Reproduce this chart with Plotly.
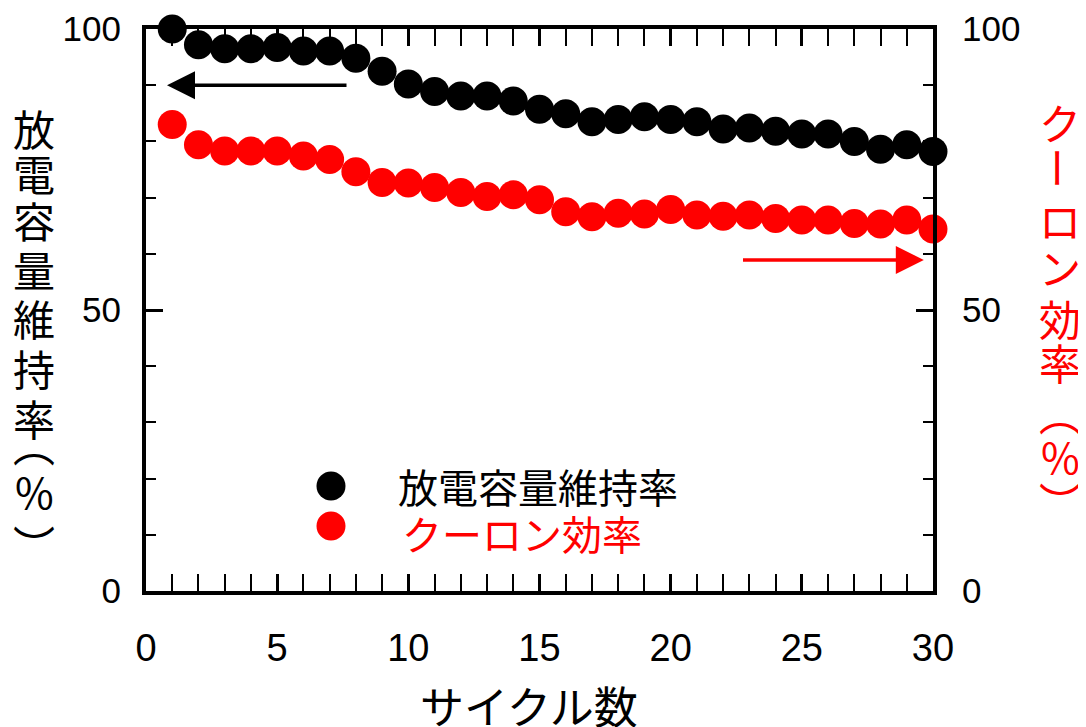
import plotly.graph_objects as go

cycles = list(range(1, 31))
capacity_retention = [100.0, 97.2, 96.5, 96.5, 96.7, 96.1, 96.1, 94.8, 92.5, 90.2,
                      88.9, 88.1, 88.1, 87.2, 85.7, 84.9, 83.5, 83.9, 84.4, 83.9,
                      83.5, 82.2, 82.4, 81.8, 81.3, 81.3, 80.0, 78.6, 79.4, 78.2]
coulomb_eff = [83.0, 79.4, 78.3, 78.3, 78.3, 77.4, 76.8, 74.6, 72.7, 72.6,
               71.8, 70.9, 70.2, 70.5, 69.6, 67.5, 66.6, 67.2, 67.1, 67.9,
               66.9, 66.7, 66.9, 66.3, 66.0, 66.0, 65.4, 65.3, 66.0, 64.4]

x_ticks = [0, 5, 10, 15, 20, 25, 30]
y_ticks = [0, 50, 100]
name_cap = "放電容量維持率"
name_ce = "クーロン効率"
left_title = "放電容量維持率（%）"
right_title = "クーロン効率（%）"
x_title = "サイクル数"

# page body has an 8px margin; compensate so the plot lands where the reference has it
OFF = 8
W, H = 1086 - OFF, 727 - OFF
L, R, T, B = 146 - OFF, 153, 29 - OFF, 136
PW, PH = W - L - R, H - T - B

def px_x(x):
    return (x - OFF - L) / PW

def px_y(y):
    return (H + OFF - B - y) / PH

CJK = "Noto Sans CJK JP"
NUM = "Liberation Sans, Arial, sans-serif"

fig = go.Figure()
fig.add_trace(go.Scatter(x=cycles, y=capacity_retention, mode="markers", name=name_cap,
                         marker=dict(color="#000000", size=29, line=dict(width=0)),
                         cliponaxis=False, showlegend=False))
fig.add_trace(go.Scatter(x=cycles, y=coulomb_eff, mode="markers", name=name_ce, yaxis="y2",
                         marker=dict(color="#ff0000", size=29, line=dict(width=0)),
                         cliponaxis=False, showlegend=False))

axis_common = dict(showline=True, linecolor="black", linewidth=4, showgrid=False,
                   zeroline=False, ticks="inside", tickcolor="black", tickwidth=3,
                   ticklen=17, automargin=False)

fig.update_layout(
    width=W, height=H,
    margin=dict(l=L, r=R, t=T, b=B, pad=0, autoexpand=False),
    paper_bgcolor="white", plot_bgcolor="white",
    xaxis=dict(range=[0, 30], tickvals=x_ticks, ticktext=[str(v) for v in x_ticks],
               mirror="allticks", ticklabelstandoff=20,
               tickfont=dict(family=NUM, size=38, color="black"),
               minor=dict(ticks="inside", dtick=1, ticklen=10, tickwidth=2, tickcolor="black"),
               **axis_common),
    yaxis=dict(range=[0, 100], tickvals=y_ticks, ticktext=[str(v) for v in y_ticks],
               ticklabelstandoff=14,
               tickfont=dict(family=NUM, size=35, color="black"),
               minor=dict(ticks="inside", dtick=10, ticklen=10, tickwidth=2, tickcolor="black"),
               **axis_common),
    yaxis2=dict(range=[0, 100], tickvals=y_ticks, ticktext=[str(v) for v in y_ticks],
                overlaying="y", side="right", ticklabelstandoff=18,
                tickfont=dict(family=NUM, size=35, color="black"),
                minor=dict(ticks="inside", dtick=10, ticklen=10, tickwidth=2, tickcolor="black"),
                **axis_common),
)

annotations = []

# vertical left title
left_chars = ["放", "電", "容", "量", "維", "持", "率", "︵", "%", "︶"]
left_y = [127, 173, 220, 268, 317, 367, 417, 443, 490, 543]
for ch, yy in zip(left_chars, left_y):
    annotations.append(dict(text=ch, xref="paper", yref="paper", x=px_x(34), y=px_y(yy),
                            xanchor="center", yanchor="middle", showarrow=False,
                            font=dict(family=CJK, size=42, color="black")))

right_chars = ["ク", "ー", "ロ", "ン", "効", "率", "︵", "%", "︶"]
right_y = [122, 168, 220, 266, 317, 362, 412, 455, 500]
for ch, yy in zip(right_chars, right_y):
    annotations.append(dict(text=ch, xref="paper", yref="paper", x=px_x(1060), y=px_y(yy),
                            xanchor="center", yanchor="middle", showarrow=False,
                            textangle=90 if ch == "ー" else 0,
                            font=dict(family=CJK, size=42, color="#ff0000")))

# x title
annotations.append(dict(text=x_title, xref="paper", yref="paper", x=px_x(529), y=px_y(705),
                        xanchor="center", yanchor="middle", showarrow=False,
                        font=dict(family=CJK, size=44, color="black")))

# legend texts
annotations.append(dict(text=name_cap, xref="paper", yref="paper", x=px_x(396), y=px_y(486),
                        xanchor="left", yanchor="middle", showarrow=False,
                        font=dict(family=CJK, size=40, color="black")))
annotations.append(dict(text=name_ce, xref="paper", yref="paper", x=px_x(400), y=px_y(533),
                        xanchor="left", yanchor="middle", showarrow=False,
                        font=dict(family=CJK, size=40, color="#ff0000")))

# arrows
annotations.append(dict(x=0.8, y=90, ax=7.7, ay=90, xref="x", yref="y", axref="x", ayref="y",
                        text="", showarrow=True, arrowhead=2, arrowsize=1.6, arrowwidth=3.5,
                        arrowcolor="black", standoff=0, startstandoff=0))
annotations.append(dict(x=29.65, y=58.9, ax=22.7, ay=58.9, xref="x", yref="y2", axref="x", ayref="y2",
                        text="", showarrow=True, arrowhead=2, arrowsize=1.6, arrowwidth=3.5,
                        arrowcolor="#ff0000", standoff=0, startstandoff=0))

fig.update_layout(annotations=annotations)

# legend markers
shapes = []
for yy, col in [(486, "#000000"), (526, "#ff0000")]:
    shapes.append(dict(type="circle", xref="paper", yref="paper", xsizemode="pixel", ysizemode="pixel",
                       xanchor=px_x(331), yanchor=px_y(yy), x0=-14.5, x1=14.5, y0=-14.5, y1=14.5,
                       fillcolor=col, line=dict(width=0)))
fig.update_layout(shapes=shapes)

fig.write_html("out.html")
